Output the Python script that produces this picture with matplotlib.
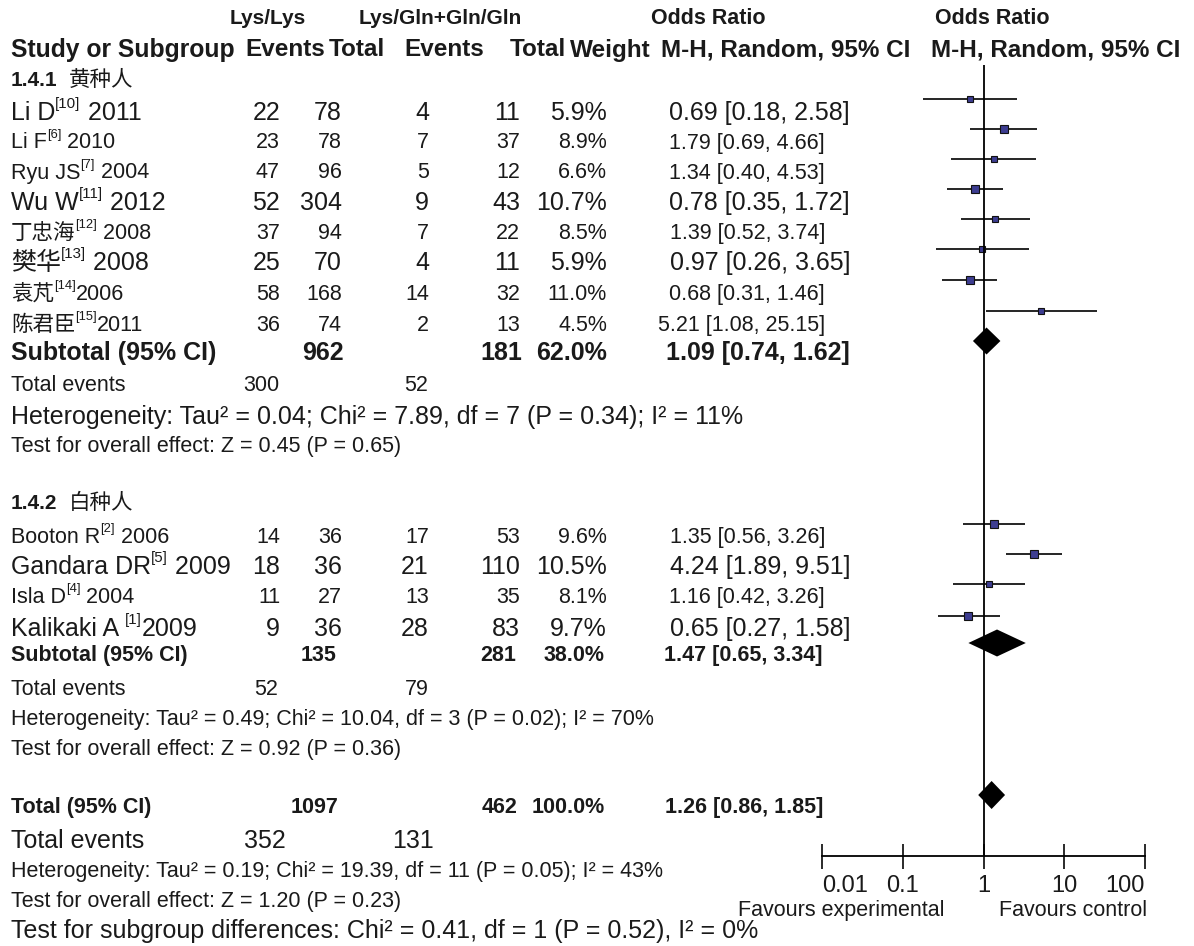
import matplotlib
matplotlib.use('Agg')
import matplotlib.pyplot as plt
from matplotlib.ticker import NullLocator

FAM = ['Liberation Sans', 'Noto Sans CJK SC', 'DejaVu Sans']
plt.rcParams['font.family'] = FAM

# ---- data: subgroup 1.4.1 (黄种人)
asian_names = ['Li D', 'Li F', 'Ryu JS', 'Wu W', '丁忠海', '樊华', '袁芃', '陈君臣']
asian_refs = ['[10]', '[6]', '[7]', '[11]', '[12]', '[13]', '[14]', '[15]']
asian_years = [' 2011', ' 2010', ' 2004', ' 2012', ' 2008', ' 2008', '2006', '2011']
asian_ev_a = [22, 23, 47, 52, 37, 25, 58, 36]
asian_tot_a = [78, 78, 96, 304, 94, 70, 168, 74]
asian_ev_b = [4, 7, 5, 9, 7, 4, 14, 2]
asian_tot_b = [11, 37, 12, 43, 22, 11, 32, 13]
asian_weight = [5.9, 8.9, 6.6, 10.7, 8.5, 5.9, 11.0, 4.5]
asian_or = [0.69, 1.79, 1.34, 0.78, 1.39, 0.97, 0.68, 5.21]
asian_lo = [0.18, 0.69, 0.40, 0.35, 0.52, 0.26, 0.31, 1.08]
asian_hi = [2.58, 4.66, 4.53, 1.72, 3.74, 3.65, 1.46, 25.15]

# ---- data: subgroup 1.4.2 (白种人)
white_names = ['Booton R', 'Gandara DR', 'Isla D', 'Kalikaki A ']
white_refs = ['[2]', '[5]', '[4]', '[1]']
white_years = [' 2006', ' 2009', ' 2004', '2009']
white_ev_a = [14, 18, 11, 9]
white_tot_a = [36, 36, 27, 36]
white_ev_b = [17, 21, 13, 28]
white_tot_b = [53, 110, 35, 83]
white_weight = [9.6, 10.5, 8.1, 9.7]
white_or = [1.35, 4.24, 1.16, 0.65]
white_lo = [0.56, 1.89, 0.42, 0.27]
white_hi = [3.26, 9.51, 3.26, 1.58]

# subtotals (asian, white) and overall
sub_tot_a = [962, 135]
sub_tot_b = [181, 281]
sub_weight = [62.0, 38.0]
sub_or = [1.09, 1.47]
sub_lo = [0.74, 0.65]
sub_hi = [1.62, 3.34]
sub_events_a = [300, 52]
sub_events_b = [52, 79]
sub_het = ['Heterogeneity: Tau² = 0.04; Chi² = 7.89, df = 7 (P = 0.34); I² = 11%',
           'Heterogeneity: Tau² = 0.49; Chi² = 10.04, df = 3 (P = 0.02); I² = 70%']
sub_test = ['Test for overall effect: Z = 0.45 (P = 0.65)',
            'Test for overall effect: Z = 0.92 (P = 0.36)']
total_tot_a, total_tot_b, total_weight = 1097, 462, 100.0
total_or, total_lo, total_hi = 1.26, 0.86, 1.85
total_events_a, total_events_b = 352, 131
total_het = 'Heterogeneity: Tau² = 0.19; Chi² = 19.39, df = 11 (P = 0.05); I² = 43%'
total_test = 'Test for overall effect: Z = 1.20 (P = 0.23)'
subgroup_test = 'Test for subgroup differences: Chi² = 0.41, df = 1 (P = 0.52), I² = 0%'

ticks = [0.01, 0.1, 1, 10, 100]
tick_labels = ['0.01', '0.1', '1', '10', '100']

# ---- layout (pixel rows / columns, row font style)
BIG, SMALL = 18, 15.5
asian_big = [True, False, False, True, False, True, False, False]
white_big = [False, True, False, True]
asian_y = [113, 143, 173, 203, 233, 263, 294, 325]
white_y = [537, 567, 597, 629]
COL_EA, COL_TA, COL_EB, COL_TB, COL_W = 280, 342, 429, 520, 607
INK = '#1a1a1a'

fig = plt.figure(figsize=(11.94, 9.46), dpi=100)
ax = fig.add_axes([0, 0, 1, 1])
ax.set_xlim(0, 1194)
ax.set_ylim(946, 0)
ax.axis('off')

fax = fig.add_axes([822 / 1194, 0, (1145 - 822) / 1194, 1])
fax.set_xscale('log')
fax.set_xlim(0.01, 100)
fax.set_ylim(946, 0)
fax.patch.set_visible(False)
for s in ['left', 'right', 'top']:
    fax.spines[s].set_visible(False)
fax.spines['bottom'].set_position(('data', 856))
fax.spines['bottom'].set_linewidth(1.3)
fax.set_yticks([])
fax.set_xticks(ticks)
fax.set_xticklabels(tick_labels)
fax.xaxis.set_minor_locator(NullLocator())
fax.tick_params(axis='x', direction='inout', length=18, width=1.3,
                labelsize=17, pad=5, colors=INK)
lbls = fax.get_xticklabels()
lbls[0].set_ha('left')
lbls[-1].set_ha('right')

renderer = fig.canvas.get_renderer()


def txt(x, y, s, size=SMALL, ha='left', bold=False):
    return ax.text(x, y, s, fontsize=size, ha=ha, va='center', color=INK,
                   fontweight='bold' if bold else 'normal')


def study_label(y, name, ref, year, size):
    t = txt(11, y, name, size)
    x1 = t.get_window_extent(renderer).x1
    sup = ax.text(x1, y - 0.36 * size * 100 / 72, ref, fontsize=size * 0.6,
                  ha='left', va='center', color=INK)
    x2 = sup.get_window_extent(renderer).x1
    txt(x2, y, year, size)


def diamond(est, lo, hi, y, h=13.5):
    fax.fill([lo, est, hi, est], [y, y - h, y, y + h], color='black', lw=0)


def draw_group(names, refs, years, ev_a, tot_a, ev_b, tot_b, w, orr, lo, hi, big, rows):
    for i in range(len(names)):
        size = BIG if big[i] else SMALL
        y = rows[i]
        study_label(y, names[i], refs[i], years[i], size)
        txt(COL_EA, y, str(ev_a[i]), size, 'right')
        txt(COL_TA, y, str(tot_a[i]), size, 'right')
        txt(COL_EB, y, str(ev_b[i]), size, 'right')
        txt(COL_TB, y, str(tot_b[i]), size, 'right')
        txt(COL_W, y, f'{w[i]:.1f}%', size, 'right')
        txt(850 if big[i] else 825, y, f'{orr[i]:.2f} [{lo[i]:.2f}, {hi[i]:.2f}]', size, 'right')
        my = y - 13.5
        fax.hlines(my, lo[i], hi[i], color='black', lw=1.2)
        fax.plot(orr[i], my, 's', ms=3.3 + 0.2 * w[i], mfc='#3d3d91', mec='#111111', mew=0.8)


# headers
txt(268, 18, 'Lys/Lys', 15, 'center', True)
txt(440, 18, 'Lys/Gln+Gln/Gln', 15, 'center', True)
txt(708, 18, 'Odds Ratio', 15.5, 'center', True)
txt(992, 18, 'Odds Ratio', 15.5, 'center', True)
txt(11, 50, 'Study or Subgroup', 17.8, 'left', True)
for cx, lab in [(285, 'Events'), (357, 'Total'), (444, 'Events'), (538, 'Total'), (610, 'Weight'),
                (786, 'M-H, Random, 95% CI'), (1056, 'M-H, Random, 95% CI')]:
    txt(cx, 50, lab, 17.5, 'center', True)

# subgroup 1
txt(11, 80, '1.4.1', 15, 'left', True)
txt(69, 80, '黄种人', 15.5)
draw_group(asian_names, asian_refs, asian_years, asian_ev_a, asian_tot_a, asian_ev_b,
           asian_tot_b, asian_weight, asian_or, asian_lo, asian_hi, asian_big, asian_y)
txt(11, 353, 'Subtotal (95% CI)', BIG, 'left', True)
txt(344, 353, str(sub_tot_a[0]), BIG, 'right', True)
txt(522, 353, str(sub_tot_b[0]), BIG, 'right', True)
txt(COL_W, 353, f'{sub_weight[0]:.1f}%', BIG, 'right', True)
txt(850, 353, f'{sub_or[0]:.2f} [{sub_lo[0]:.2f}, {sub_hi[0]:.2f}]', BIG, 'right', True)
diamond(sub_or[0], sub_lo[0], sub_hi[0], 341)
txt(11, 385, 'Total events')
txt(279, 385, str(sub_events_a[0]), SMALL, 'right')
txt(428, 385, str(sub_events_b[0]), SMALL, 'right')
txt(11, 417, sub_het[0], BIG)
txt(11, 446, sub_test[0])

# subgroup 2
txt(11, 503, '1.4.2', 15, 'left', True)
txt(69, 503, '白种人', 15.5)
draw_group(white_names, white_refs, white_years, white_ev_a, white_tot_a, white_ev_b,
           white_tot_b, white_weight, white_or, white_lo, white_hi, white_big, white_y)
txt(11, 655, 'Subtotal (95% CI)', SMALL, 'left', True)
txt(337, 655, str(sub_tot_a[1]), SMALL, 'right', True)
txt(516, 655, str(sub_tot_b[1]), SMALL, 'right', True)
txt(605, 655, f'{sub_weight[1]:.1f}%', SMALL, 'right', True)
txt(823, 655, f'{sub_or[1]:.2f} [{sub_lo[1]:.2f}, {sub_hi[1]:.2f}]', SMALL, 'right', True)
diamond(sub_or[1], sub_lo[1], sub_hi[1], 643)
txt(11, 689, 'Total events')
txt(278, 689, str(sub_events_a[1]), SMALL, 'right')
txt(429, 689, str(sub_events_b[1]), SMALL, 'right')
txt(11, 719, sub_het[1])
txt(11, 749, sub_test[1])

# overall
txt(11, 807, 'Total (95% CI)', SMALL, 'left', True)
txt(338, 807, str(total_tot_a), SMALL, 'right', True)
txt(518, 807, str(total_tot_b), SMALL, 'right', True)
txt(605, 807, f'{total_weight:.1f}%', SMALL, 'right', True)
txt(823, 807, f'{total_or:.2f} [{total_lo:.2f}, {total_hi:.2f}]', SMALL, 'right', True)
diamond(total_or, total_lo, total_hi, 795, 14)
txt(11, 841, 'Total events', BIG)
txt(286, 841, str(total_events_a), BIG, 'right')
txt(434, 841, str(total_events_b), BIG, 'right')
txt(11, 871, total_het)
txt(11, 901, total_test)
txt(11, 931, subgroup_test, BIG)

# null line and favours labels
fax.vlines(1, 65, 856, color='black', lw=1.3)
txt(945, 910, 'Favours experimental', 15.5, 'right')
txt(1073, 910, 'Favours control', 15.5, 'center')

fig.savefig('out.png', dpi=100, facecolor='white')
